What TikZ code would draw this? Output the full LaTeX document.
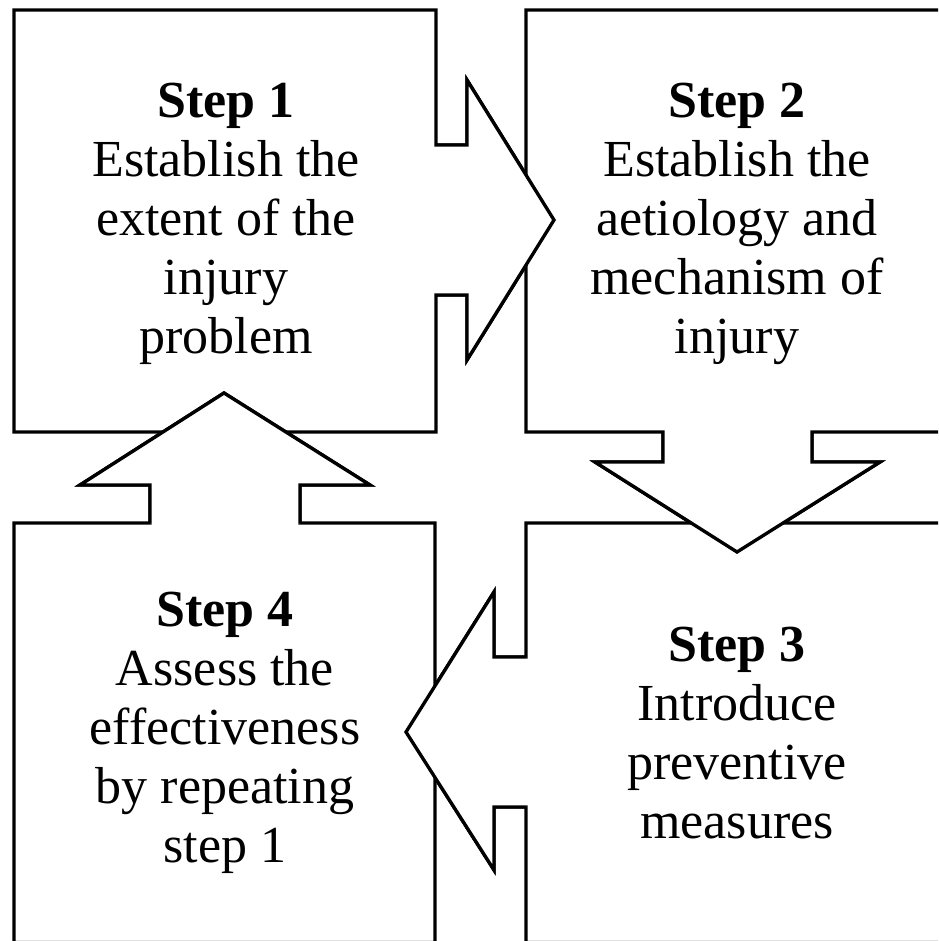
\documentclass[tikz,border=0pt]{standalone}
\usepackage{fontspec}
\setmainfont{Liberation Serif}
\begin{document}
\begin{tikzpicture}[x=0.02cm,y=-0.02cm,
  boxline/.style={draw=black,line width=1.9pt,fill=white,line join=miter},
  arrowover/.style={draw=black,line width=1.9pt,fill=white,line join=miter},
  steptext/.style={align=center,font=\fontsize{29.6}{33.6}\selectfont,inner sep=0pt}]
\useasboundingbox (0,0) rectangle (938,941);
\clip (0,0) rectangle (938,941);
% boxes with notched outlines
\path[boxline] (14,10) -- (436,10) -- (436,145) -- (467,145) -- (467,80) -- (554,220) -- (467,360) -- (467,295) -- (436,295) -- (436,432) -- (14,432) -- cycle;
\path[boxline] (526,10) -- (960,10) -- (960,432) -- (812,432) -- (812,462) -- (880,462) -- (737,552) -- (595,462) -- (663,462) -- (663,432) -- (526,432) -- cycle;
\path[boxline] (526,523) -- (960,523) -- (960,942.5) -- (526,942.5) -- (526,807) -- (494,807) -- (494,870) -- (406,732) -- (494,592) -- (494,657) -- (526,657) -- cycle;
\path[boxline] (14,523) -- (150,523) -- (150,485) -- (80,485) -- (224,393) -- (370,485) -- (300,485) -- (300,523) -- (435,523) -- (435,942.5) -- (14,942.5) -- cycle;
% arrowheads drawn over the neighbouring boxes
\path[arrowover] (436,145) -- (467,145) -- (467,80) -- (554,220) -- (467,360) -- (467,295) -- (436,295);
\path[arrowover] (663,432) -- (663,462) -- (595,462) -- (737,552) -- (880,462) -- (812,462) -- (812,432);
\path[arrowover] (526,657) -- (494,657) -- (494,592) -- (406,732) -- (494,870) -- (494,807) -- (526,807);
\path[arrowover] (150,523) -- (150,485) -- (80,485) -- (224,393) -- (370,485) -- (300,485) -- (300,523);
% texts
\node[steptext] (s1) at (226,224) {\textbf{Step 1}\\Establish the\\extent of the\\injury\\problem};
\node[steptext] (s2) at (737,224) {\textbf{Step 2}\\Establish the\\aetiology and\\mechanism of\\injury};
\node[steptext] (s3) at (737,733) {\textbf{Step 3}\\Introduce\\preventive\\measures};
\node[steptext] (s4) at (225,733) {\textbf{Step 4}\\Assess the\\effectiveness\\by repeating\\step 1};
\end{tikzpicture}
\end{document}
